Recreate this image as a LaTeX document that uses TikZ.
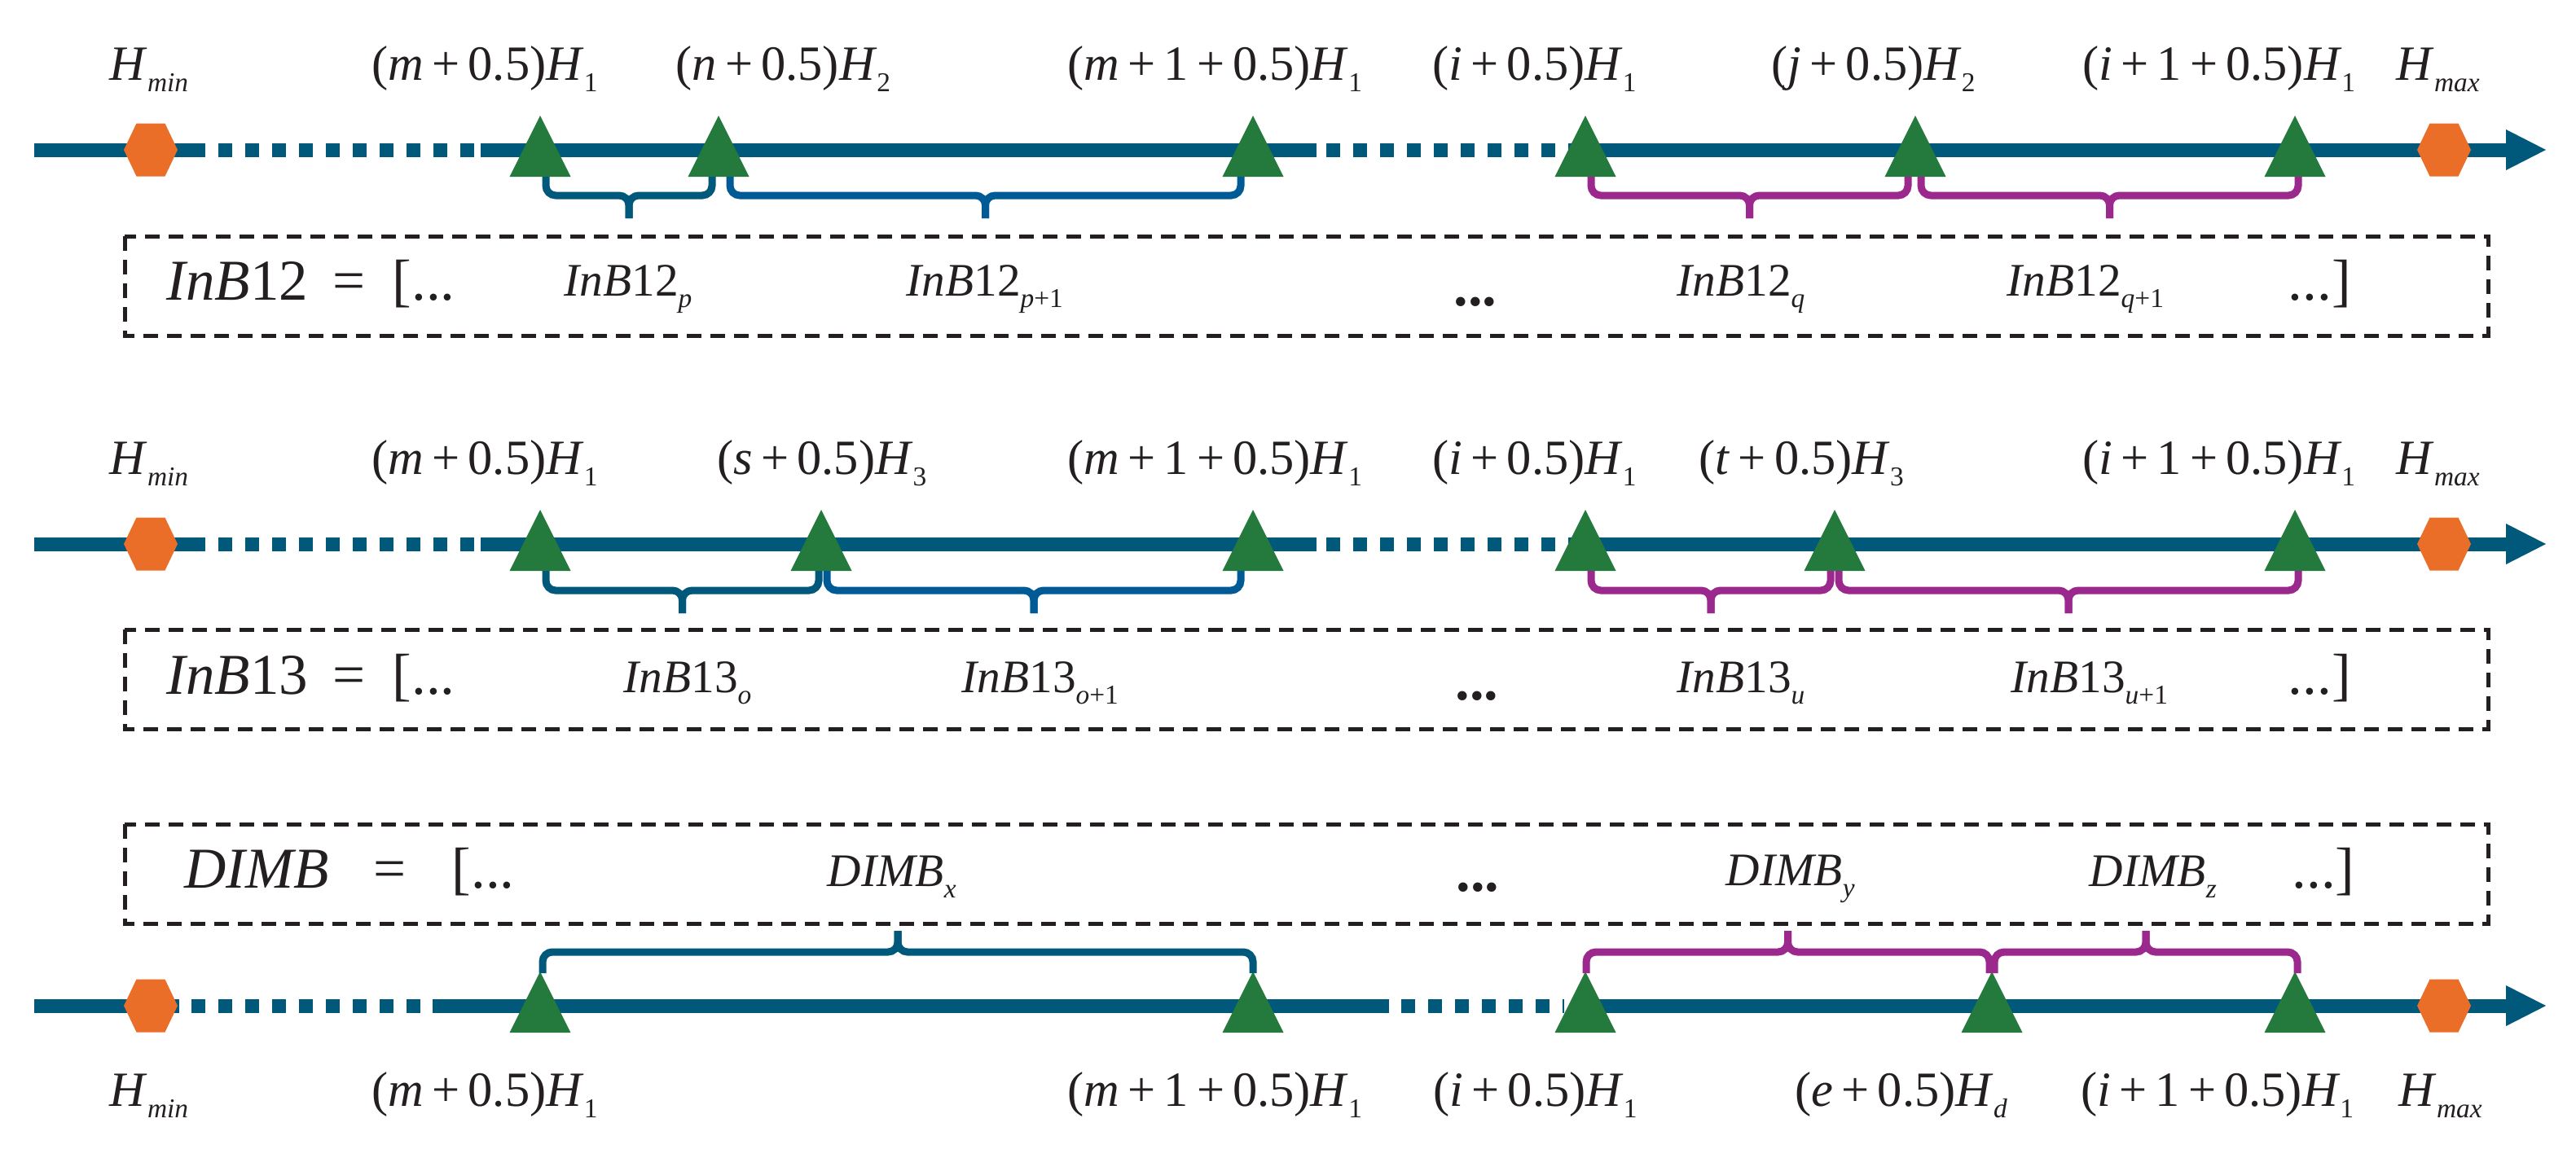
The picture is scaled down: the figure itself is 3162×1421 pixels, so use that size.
\documentclass[tikz,border=0pt]{standalone}
\usepackage{fontspec}
\setmainfont{Liberation Serif}
\usepackage{graphicx}
\definecolor{axisblue}{RGB}{0,88,122}
\definecolor{braceblue}{RGB}{0,90,150}
\definecolor{bracepurple}{RGB}{155,40,140}
\definecolor{trigreen}{RGB}{36,122,60}
\definecolor{hexorange}{RGB}{234,110,40}
\definecolor{inkblack}{RGB}{35,31,32}
\newcommand\vi[1]{\textit{#1}}
\newcommand\sbx[1]{\raisebox{-4.2pt}{\fontsize{9.5}{10}\selectfont #1}}
\newcommand\pls{\,+\,}
\newcommand\hexat[2]{\fill[hexa] (#1-33,#2) -- (#1-17.5,#2-32.5) -- (#1+17.5,#2-32.5) -- (#1+33,#2) -- (#1+17.5,#2+32.5) -- (#1-17.5,#2+32.5) -- cycle;}
\newcommand\triat[2]{\fill[tri] (#1-37.5,#2+33) -- (#1,#2-42) -- (#1+37.5,#2+33) -- cycle;}
\newcommand\bracepath[6]{%
  \draw[bracestyle,#6] (#1,#3) |- ({(#1+#2)/2},#4) -- ({(#1+#2)/2},#5);
  \draw[bracestyle,#6] (#2,#3) |- ({(#1+#2)/2},#4) -- ({(#1+#2)/2},#5);}
\tikzset{
  tri/.style={fill=trigreen},
  hexa/.style={fill=hexorange},
  axisline/.style={draw=axisblue, line width=1.7mm},
  axisdash/.style={axisline, dash pattern=on 1.7mm off 1.6mm},
  bracestyle/.style={line width=0.9mm, rounded corners=1.2mm},
  dbox/.style={draw=inkblack, line width=0.5mm, dash pattern=on 1.8mm off 1.1mm},
  lbl/.style={anchor=base west, inner sep=0, text=inkblack, font=\fontsize{17.2}{20}\selectfont},
  bigt/.style={anchor=base west, inner sep=0, text=inkblack, font=\fontsize{20.2}{24}\selectfont},
  itm/.style={anchor=base west, inner sep=0, text=inkblack, font=\fontsize{16.3}{20}\selectfont},
  dots/.style={anchor=base west, inner sep=0, text=inkblack, font=\fontsize{20}{24}\selectfont\bfseries},
}
\begin{document}
\begin{tikzpicture}[x=0.1mm,y=-0.1mm]
\useasboundingbox (0,0) rectangle (3162,1421);
% ---------- axes rows 1 and 2 ----------
\foreach \ay in {184,668}{
  \draw[axisline] (42,\ay) -- (252,\ay);
  \draw[axisdash] (268,\ay) -- (584,\ay);
  \draw[axisline] (590,\ay) -- (1616,\ay);
  \draw[axisdash] (1628,\ay) -- (1911,\ay);
  \draw[axisline] (1925,\ay) -- (3077,\ay);
  \fill[axisblue] (3076,\ay-25) -- (3125,\ay) -- (3076,\ay+25) -- cycle;
  \hexat{185}{\ay}
  \hexat{3000}{\ay}
}
% ---------- axis row 3 ----------
\draw[axisline] (42,1235) -- (220,1235);
\draw[axisdash] (235,1235) -- (518,1235);
\draw[axisline] (531,1235) -- (1705,1235);
\draw[axisdash] (1720,1235) -- (1920,1235);
\draw[axisline] (1930,1235) -- (3077,1235);
\fill[axisblue] (3076,1210) -- (3125,1235) -- (3076,1260) -- cycle;
\hexat{185}{1235}
\hexat{3000}{1235}
% ---------- triangles ----------
\foreach \tx in {663,882,1538,1946,2351,2817}{\triat{\tx}{184}}
\foreach \tx in {663,1008,1538,1946,2252,2817}{\triat{\tx}{668}}
\foreach \tx in {663,1538,1946,2445,2817}{\triat{\tx}{1235}}
% ---------- braces ----------
\bracepath{670}{874}{217}{240}{268}{axisblue}
\bracepath{896}{1523}{217}{240}{268}{braceblue}
\bracepath{1953}{2342}{217}{240}{268}{bracepurple}
\bracepath{2358}{2821}{217}{240}{268}{bracepurple}
\bracepath{670}{1005}{701}{725}{753}{axisblue}
\bracepath{1015}{1523}{701}{725}{753}{braceblue}
\bracepath{1953}{2247}{701}{725}{753}{bracepurple}
\bracepath{2257}{2821}{701}{725}{753}{bracepurple}
\bracepath{666}{1538}{1195}{1169}{1143}{axisblue}
\bracepath{1947}{2442}{1195}{1169}{1143}{bracepurple}
\bracepath{2448}{2820}{1195}{1169}{1143}{bracepurple}
% ---------- dashed boxes ----------
\draw[dbox] (153,290) rectangle (3054,412);
\draw[dbox] (153,773) rectangle (3054,895);
\draw[dbox] (153,1012) rectangle (3054,1134);
% ---------- row 1 labels ----------
\node[lbl] (r1hmin) at (134,98) {\vi{H}\sbx{\vi{min}}};
\node[lbl] (r1a) at (456,98) {(\vi{m}\pls 0.5)\vi{H}\sbx{1}};
\node[lbl] (r1b) at (829,98) {(\vi{n}\pls 0.5)\vi{H}\sbx{2}};
\node[lbl] (r1c) at (1310,98) {(\vi{m}\pls 1\pls 0.5)\vi{H}\sbx{1}};
\node[lbl] (r1d) at (1758,98) {(\vi{i}\pls 0.5)\vi{H}\sbx{1}};
\node[lbl] (r1e) at (2174,98) {(\vi{j}\pls 0.5)\vi{H}\sbx{2}};
\node[lbl] (r1f) at (2556,98) {(\vi{i}\pls 1\pls 0.5)\vi{H}\sbx{1}};
\node[lbl] (r1hmax) at (2941,98) {\vi{H}\sbx{\vi{max}}};
% ---------- row 1 box text ----------
\node[bigt] (b1name) at (204,368) {\vi{InB}12};
\node[bigt] (b1eq) at (408,368) {=};
\node[bigt] (b1open) at (481,368) {[...};
\node[itm] (b1p) at (692,363) {\vi{InB}12\sbx{\vi{p}}};
\node[itm] (b1p1) at (1112,363) {\vi{InB}12\sbx{\vi{p}+1}};
\node[dots] (b1dots) at (1784,375) {...};
\node[itm] (b1q) at (2058,363) {\vi{InB}12\sbx{\vi{q}}};
\node[itm] (b1q1) at (2463,363) {\vi{InB}12\sbx{\vi{q}+1}};
\node[bigt] (b1close) at (2808,368) {...]};
% ---------- row 2 labels ----------
\node[lbl] (r2hmin) at (134,582) {\vi{H}\sbx{\vi{min}}};
\node[lbl] (r2a) at (456,582) {(\vi{m}\pls 0.5)\vi{H}\sbx{1}};
\node[lbl] (r2b) at (880,582) {(\vi{s}\pls 0.5)\vi{H}\sbx{3}};
\node[lbl] (r2c) at (1310,582) {(\vi{m}\pls 1\pls 0.5)\vi{H}\sbx{1}};
\node[lbl] (r2d) at (1758,582) {(\vi{i}\pls 0.5)\vi{H}\sbx{1}};
\node[lbl] (r2e) at (2085,582) {(\vi{t}\pls 0.5)\vi{H}\sbx{3}};
\node[lbl] (r2f) at (2556,582) {(\vi{i}\pls 1\pls 0.5)\vi{H}\sbx{1}};
\node[lbl] (r2hmax) at (2941,582) {\vi{H}\sbx{\vi{max}}};
% ---------- row 2 box text ----------
\node[bigt] (b2name) at (204,852) {\vi{InB}13};
\node[bigt] (b2eq) at (408,852) {=};
\node[bigt] (b2open) at (481,852) {[...};
\node[itm] (b2o) at (765,850) {\vi{InB}13\sbx{\vi{o}}};
\node[itm] (b2o1) at (1180,850) {\vi{InB}13\sbx{\vi{o}+1}};
\node[dots] (b2dots) at (1786,859) {...};
\node[itm] (b2u) at (2058,850) {\vi{InB}13\sbx{\vi{u}}};
\node[itm] (b2u1) at (2468,850) {\vi{InB}13\sbx{\vi{u}+1}};
\node[bigt] (b2close) at (2808,852) {...]};
% ---------- row 3 box text ----------
\node[bigt] (b3name) at (226,1090) {\vi{DIMB}};
\node[bigt] (b3eq) at (458,1090) {=};
\node[bigt] (b3open) at (554,1090) {[...};
\node[itm] (b3x) at (1015,1088) {\vi{DIMB}\sbx{\vi{x}}};
\node[dots] (b3dots) at (1787,1094) {...};
\node[itm] (b3y) at (2118,1087) {\vi{DIMB}\sbx{\vi{y}}};
\node[itm] (b3z) at (2564,1088) {\vi{DIMB}\sbx{\vi{z}}};
\node[bigt] (b3close) at (2813,1090) {...]};
% ---------- row 3 labels ----------
\node[lbl] (r3hmin) at (134,1358) {\vi{H}\sbx{\vi{min}}};
\node[lbl] (r3a) at (456,1358) {(\vi{m}\pls 0.5)\vi{H}\sbx{1}};
\node[lbl] (r3c) at (1310,1358) {(\vi{m}\pls 1\pls 0.5)\vi{H}\sbx{1}};
\node[lbl] (r3d) at (1759,1358) {(\vi{i}\pls 0.5)\vi{H}\sbx{1}};
\node[lbl] (r3e) at (2203,1358) {(\vi{e}\pls 0.5)\vi{H}\sbx{\vi{d}}};
\node[lbl] (r3f) at (2554,1358) {(\vi{i}\pls 1\pls 0.5)\vi{H}\sbx{1}};
\node[lbl] (r3hmax) at (2944,1358) {\vi{H}\sbx{\vi{max}}};
\end{tikzpicture}
\end{document}
